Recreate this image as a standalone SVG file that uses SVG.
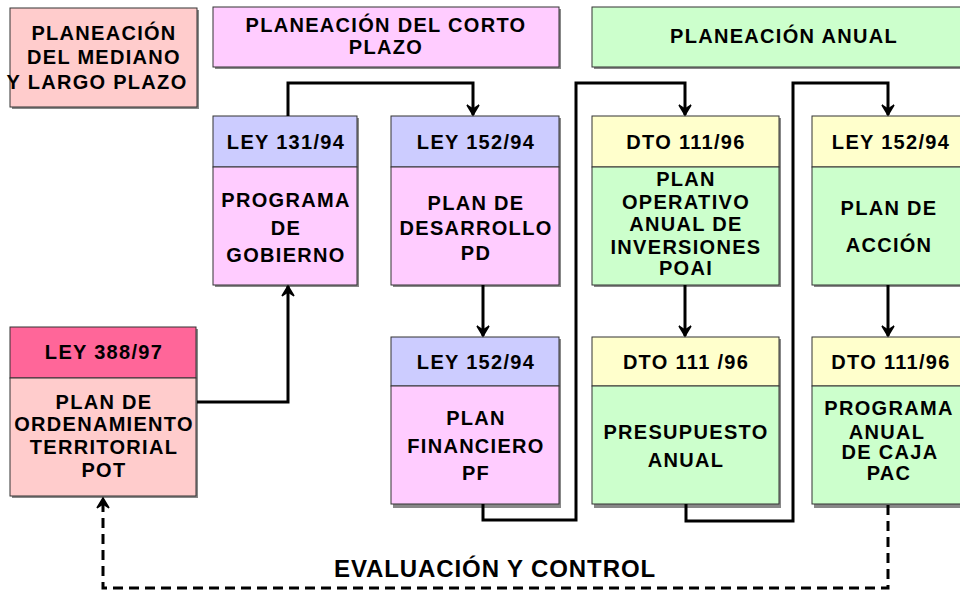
<svg xmlns="http://www.w3.org/2000/svg" width="960" height="590" viewBox="0 0 960 590">
<defs>
<style>
.t{font-family:"Liberation Sans",Arial,sans-serif;font-weight:bold;font-size:20px;letter-spacing:1.3px;text-anchor:middle;fill:#000}
.big{font-size:24px;letter-spacing:0.9px}
.box{stroke:#333;stroke-width:1}
.sh{fill:#888}
.c{fill:none;stroke:#000;stroke-width:3}
.d{fill:none;stroke:#000;stroke-width:3;stroke-dasharray:10 6}
</style>
<marker id="ah" viewBox="-12 -8 14 16" refX="0" refY="0" markerWidth="14" markerHeight="16" markerUnits="userSpaceOnUse" orient="auto">
<path d="M-10,-6 L0,0 L-10,6 L-6,0 Z" fill="#000" stroke="#000" stroke-width="1.5" stroke-linejoin="miter"/>
</marker>
</defs>
<rect width="960" height="590" fill="#fff"/>

<g id="hdr-mediano">
<rect class="sh" x="12" y="10" width="187" height="99"/>
<rect class="box" x="10" y="8" width="187" height="99" fill="#FFCCCC"/>
<text class="t" x="104" y="40">PLANEACIÓN</text>
<text class="t" x="104" y="64">DEL MEDIANO</text>
<text class="t" x="97" y="89">Y LARGO PLAZO</text>
</g>

<g id="hdr-corto">
<rect class="sh" x="215" y="9" width="346" height="60"/>
<rect class="box" x="213" y="7" width="346" height="60" fill="#FFCCFF"/>
<text class="t" x="386" y="32">PLANEACIÓN DEL CORTO</text>
<text class="t" x="386" y="54">PLAZO</text>
</g>

<g id="hdr-anual">
<rect class="sh" x="594" y="9" width="383" height="60"/>
<rect class="box" x="592" y="7" width="383" height="60" fill="#CCFFCC"/>
<text class="t" x="784" y="43">PLANEACIÓN ANUAL</text>
</g>

<g id="n-gobierno">
<rect class="sh" x="215" y="118" width="144" height="169"/>
<rect class="box" x="213" y="116" width="144" height="51" fill="#CCCCFF"/>
<rect class="box" x="213" y="167" width="144" height="118" fill="#FFCCFF"/>
<text class="t" x="286" y="149">LEY 131/94</text>
<text class="t" x="286" y="207">PROGRAMA</text>
<text class="t" x="286" y="235">DE</text>
<text class="t" x="286" y="262">GOBIERNO</text>
</g>

<g id="n-pd">
<rect class="sh" x="393" y="118" width="168" height="169"/>
<rect class="box" x="391" y="116" width="168" height="51" fill="#CCCCFF"/>
<rect class="box" x="391" y="167" width="168" height="118" fill="#FFCCFF"/>
<text class="t" x="476" y="149">LEY 152/94</text>
<text class="t" x="476" y="210">PLAN DE</text>
<text class="t" x="476" y="235">DESARROLLO</text>
<text class="t" x="476" y="260">PD</text>
</g>

<g id="n-poai">
<rect class="sh" x="594" y="118" width="187" height="169"/>
<rect class="box" x="592" y="116" width="187" height="51" fill="#FFFFCC"/>
<rect class="box" x="592" y="167" width="187" height="118" fill="#CCFFCC"/>
<text class="t" x="686" y="149">DTO 111/96</text>
<text class="t" x="686" y="186">PLAN</text>
<text class="t" x="686" y="209">OPERATIVO</text>
<text class="t" x="686" y="231">ANUAL DE</text>
<text class="t" x="686" y="254">INVERSIONES</text>
<text class="t" x="686" y="275">POAI</text>
</g>

<g id="n-accion">
<rect class="sh" x="814" y="118" width="153" height="169"/>
<rect class="box" x="812" y="116" width="153" height="51" fill="#FFFFCC"/>
<rect class="box" x="812" y="167" width="153" height="118" fill="#CCFFCC"/>
<text class="t" x="891" y="149">LEY 152/94</text>
<text class="t" x="889" y="215">PLAN DE</text>
<text class="t" x="889" y="252">ACCIÓN</text>
</g>

<g id="n-pot">
<rect class="sh" x="12" y="329" width="186" height="169"/>
<rect class="box" x="10" y="327" width="186" height="51" fill="#FF6699"/>
<rect class="box" x="10" y="378" width="186" height="118" fill="#FFCCCC"/>
<text class="t" x="104" y="359">LEY 388/97</text>
<text class="t" x="104" y="409">PLAN DE</text>
<text class="t" x="104" y="431">ORDENAMIENTO</text>
<text class="t" x="104" y="454">TERRITORIAL</text>
<text class="t" x="104" y="477">POT</text>
</g>

<g id="n-pf">
<rect class="sh" x="393" y="339" width="168" height="169"/>
<rect class="box" x="391" y="337" width="168" height="49" fill="#CCCCFF"/>
<rect class="box" x="391" y="386" width="168" height="118" fill="#FFCCFF"/>
<text class="t" x="476" y="369">LEY 152/94</text>
<text class="t" x="476" y="425">PLAN</text>
<text class="t" x="476" y="453">FINANCIERO</text>
<text class="t" x="476" y="480">PF</text>
</g>

<g id="n-presupuesto">
<rect class="sh" x="594" y="339" width="187" height="169"/>
<rect class="box" x="592" y="337" width="187" height="49" fill="#FFFFCC"/>
<rect class="box" x="592" y="386" width="187" height="118" fill="#CCFFCC"/>
<text class="t" x="686" y="369">DTO 111 /96</text>
<text class="t" x="686" y="439">PRESUPUESTO</text>
<text class="t" x="686" y="467">ANUAL</text>
</g>

<g id="n-pac">
<rect class="sh" x="814" y="339" width="153" height="169"/>
<rect class="box" x="812" y="337" width="153" height="49" fill="#FFFFCC"/>
<rect class="box" x="812" y="386" width="153" height="118" fill="#CCFFCC"/>
<text class="t" x="891" y="369">DTO 111/96</text>
<text class="t" x="889" y="415">PROGRAMA</text>
<text class="t" x="887" y="439">ANUAL</text>
<text class="t" x="890" y="459">DE CAJA</text>
<text class="t" x="889" y="480">PAC</text>
</g>

<g id="connectors">
<path class="c" d="M197,402 H288 V286" marker-end="url(#ah)"/>
<path class="c" d="M288,116 V83 H473 V115" marker-end="url(#ah)"/>
<path class="c" d="M483,285 V336" marker-end="url(#ah)"/>
<path class="c" d="M483,504 V520 H576 V83 H685 V115" marker-end="url(#ah)"/>
<path class="c" d="M685,285 V336" marker-end="url(#ah)"/>
<path class="c" d="M686,504 V521 H793 V83 H888 V115" marker-end="url(#ah)"/>
<path class="c" d="M888,285 V336" marker-end="url(#ah)"/>
<path class="d" d="M888,505 V588 H103 V498" marker-end="url(#ah)"/>
<text class="t big" x="495" y="577">EVALUACIÓN Y CONTROL</text>
</g>
</svg>
